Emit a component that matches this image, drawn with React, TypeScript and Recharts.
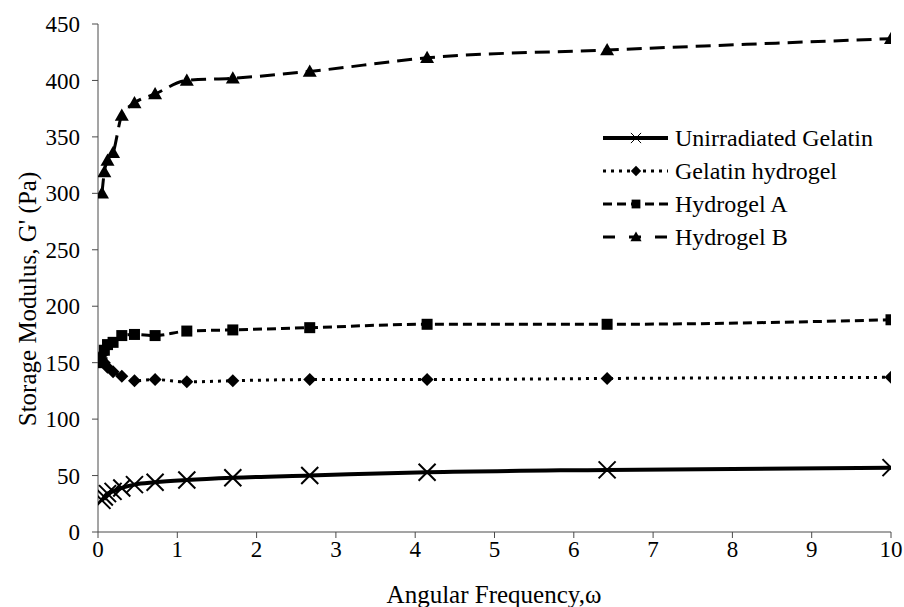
import React from 'react';
import { LineChart, Line, XAxis, YAxis } from 'recharts';

// angular frequency (rad/s)
const frequency = [0.05, 0.08, 0.12, 0.19, 0.3, 0.46, 0.72, 1.12, 1.7, 2.67, 4.15, 6.42, 10];

const unirradiated = [28, 31, 34, 36, 39, 42, 44, 46, 48, 50, 53, 55, 57];
const gelatinHydrogel = [157, 150, 146, 142, 138, 134, 135, 133, 134, 135, 135, 136, 137];
const hydrogelA = [150, 161, 166, 168, 174, 175, 174, 178, 179, 181, 184, 184, 188];
const hydrogelB = [300, 319, 329, 336, 369, 380, 388, 400, 402, 408, 420, 427, 437];

const xTicks = [0, 1, 2, 3, 4, 5, 6, 7, 8, 9, 10];
const yTicks = [0, 50, 100, 150, 200, 250, 300, 350, 400, 450];

const data = frequency.map((w, i) => ({
  w,
  unirradiated: unirradiated[i],
  gelatin: gelatinHydrogel[i],
  hydA: hydrogelA[i],
  hydB: hydrogelB[i],
}));

const FONT = '"Liberation Serif", "Times New Roman", serif';
const AXIS = '#4a4a4a';

type MarkerKind = 'cross' | 'diamond' | 'square' | 'triangle';

function marker(kind: MarkerKind, cx: number, cy: number, key?: string | number, scale = 1) {
  if (kind === 'cross') {
    const s = 8.5 * scale;
    return (
      <path
        key={key}
        d={`M${cx - s},${cy - s}L${cx + s},${cy + s}M${cx - s},${cy + s}L${cx + s},${cy - s}`}
        stroke='#000'
        strokeWidth={scale < 1 ? 1 : 2}
        fill='none'
      />
    );
  }
  if (kind === 'diamond') {
    const s = 6.5 * scale;
    return (
      <path
        key={key}
        d={`M${cx},${cy - s}L${cx + s},${cy}L${cx},${cy + s}L${cx - s},${cy}Z`}
        fill='#000'
      />
    );
  }
  if (kind === 'square') {
    const s = 5.5 * scale;
    return <rect key={key} x={cx - s} y={cy - s} width={2 * s} height={2 * s} fill='#000' />;
  }
  const s = 7 * scale;
  return (
    <path
      key={key}
      d={`M${cx},${cy - s}L${cx + s},${cy + s * 0.75}L${cx - s},${cy + s * 0.75}Z`}
      fill='#000'
    />
  );
}

const dotFor = (kind: MarkerKind) => (props: any) => {
  const { cx, cy, index } = props;
  if (cx == null || cy == null) return <g key={index} />;
  return marker(kind, cx, cy, index);
};

const legendItems: Array<{ name: string; kind: MarkerKind; dash?: string; width: number }> = [
  { name: 'Unirradiated Gelatin', kind: 'cross', width: 4 },
  { name: 'Gelatin hydrogel', kind: 'diamond', dash: '3 5', width: 3 },
  { name: 'Hydrogel A', kind: 'square', dash: '9 5', width: 3 },
  { name: 'Hydrogel B', kind: 'triangle', dash: '12 14', width: 3 },
];

function LegendBox() {
  return (
    <svg width={304} height={140} style={{ position: 'absolute', left: 600, top: 120 }}>
      {legendItems.map((item, i) => {
        const y = 18 + i * 33;
        return (
          <g key={item.name}>
            <line
              x1={3}
              x2={68}
              y1={y}
              y2={y}
              stroke='#000'
              strokeWidth={item.width}
              strokeDasharray={item.dash}
            />
            {marker(item.kind, 36, y, undefined, item.kind === 'cross' ? 0.6 : 0.8)}
            <text x={75} y={y + 8} fontFamily={FONT} fontSize={24} fill='#000'>
              {item.name}
            </text>
          </g>
        );
      })}
    </svg>
  );
}

const YTitle = () => (
  <text
    transform='translate(27, 299) rotate(-90)'
    textAnchor='middle'
    dominantBaseline='central'
    fontFamily={FONT}
    fontSize={25}
    fill='#000'
  >
    Storage Modulus, G' (Pa)
  </text>
);

const XTitle = () => (
  <text
    x={494}
    y={594}
    textAnchor='middle'
    dominantBaseline='central'
    fontFamily={FONT}
    fontSize={25}
    fill='#000'
  >
    Angular Frequency,ω
  </text>
);

export default function App() {
  return (
    <div style={{ position: 'absolute', left: 0, top: 0, width: 904, height: 607, background: '#fff' }}>
      <LineChart
        width={904}
        height={607}
        data={data}
        margin={{ top: 24, right: 13, bottom: 45, left: 38 }}
      >
        <XAxis
          dataKey='w'
          type='number'
          domain={[0, 10]}
          ticks={xTicks}
          interval={0}
          allowDataOverflow
          stroke={AXIS}
          tickLine={{ stroke: AXIS }}
          tickSize={6}
          tickMargin={3}
          tick={{ fontFamily: FONT, fontSize: 23, fill: '#000' }}
          label={{ content: () => <XTitle /> }}
        />
        <YAxis
          width={60}
          type='number'
          domain={[0, 450]}
          ticks={yTicks}
          interval={0}
          stroke={AXIS}
          tickLine={{ stroke: AXIS }}
          tickSize={6}
          tickMargin={12}
          tick={{ fontFamily: FONT, fontSize: 23, fill: '#000' }}
          label={{ content: () => <YTitle /> }}
        />
        <Line
          type='monotone'
          dataKey='unirradiated'
          name='Unirradiated Gelatin'
          stroke='#000'
          strokeWidth={4}
          dot={dotFor('cross')}
          activeDot={false}
          isAnimationActive={false}
        />
        <Line
          type='monotone'
          dataKey='gelatin'
          name='Gelatin hydrogel'
          stroke='#000'
          strokeWidth={3}
          strokeDasharray='3 5'
          dot={dotFor('diamond')}
          activeDot={false}
          isAnimationActive={false}
        />
        <Line
          type='monotone'
          dataKey='hydA'
          name='Hydrogel A'
          stroke='#000'
          strokeWidth={3}
          strokeDasharray='9 5'
          dot={dotFor('square')}
          activeDot={false}
          isAnimationActive={false}
        />
        <Line
          type='monotone'
          dataKey='hydB'
          name='Hydrogel B'
          stroke='#000'
          strokeWidth={3}
          strokeDasharray='15 8'
          dot={dotFor('triangle')}
          activeDot={false}
          isAnimationActive={false}
        />
      </LineChart>
      <LegendBox />
    </div>
  );
}
